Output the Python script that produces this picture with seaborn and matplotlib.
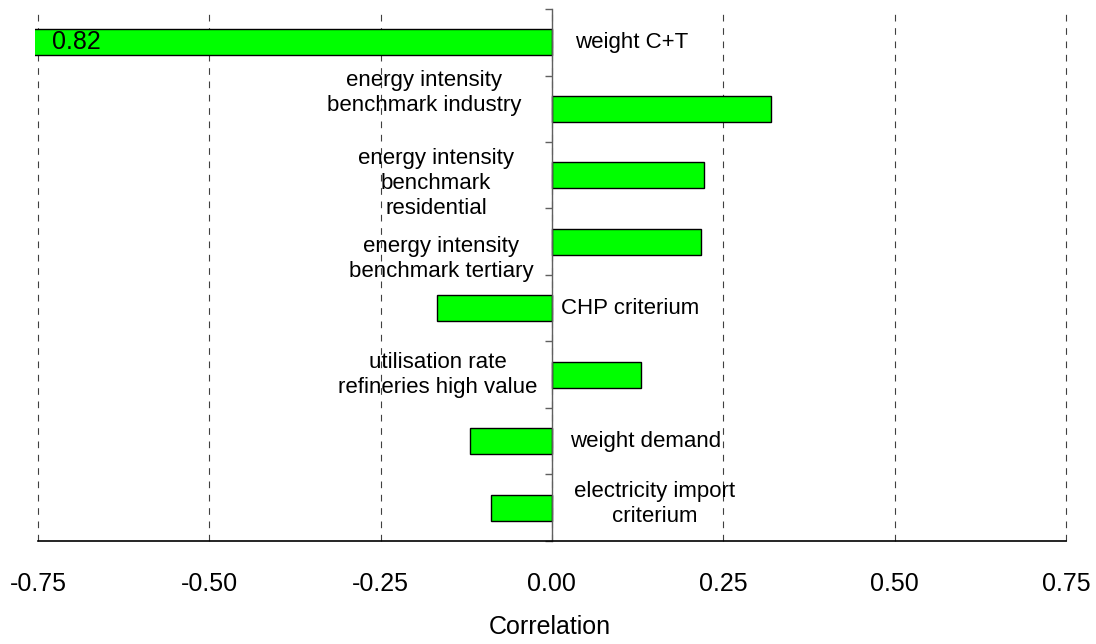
import seaborn as sns
import matplotlib.pyplot as plt
import pandas as pd

# values
categories = ["weight C+T", "ei industry", "ei residential", "ei tertiary",
              "CHP criterium", "utilisation rate", "weight demand", "electricity import"]
label_text = ["weight C+T",
              "energy intensity\nbenchmark industry",
              "energy intensity\nbenchmark\nresidential",
              "energy intensity\nbenchmark tertiary",
              "CHP criterium",
              "utilisation rate\nrefineries high value",
              "weight demand",
              "electricity import\ncriterium"]
correlation = [-0.82, 0.32, 0.222, 0.218, -0.168, 0.13, -0.119, -0.089]
ticks_x = [-0.75, -0.50, -0.25, 0.00, 0.25, 0.50, 0.75]

# where the category names sit inside the plot
label_x = [0.117, -0.186, -0.169, -0.162, 0.114, -0.166, 0.137, 0.150]
label_dy = [0.0, -0.23, 0.12, 0.26, 0.0, 0.0, 0.0, -0.05]

df = pd.DataFrame({"name": categories, "corr": correlation})

sns.set_theme(style="white")
plt.rcParams["font.family"] = ["Liberation Sans", "DejaVu Sans"]
plt.rcParams["text.color"] = "black"
plt.rcParams["axes.labelcolor"] = "black"
plt.rcParams["xtick.color"] = "black"

fig = plt.figure(figsize=(10.96, 6.44), dpi=100)
ax = fig.add_axes([0.0315, 0.16, 0.941, 0.826])

sns.barplot(data=df, x="corr", y="name", color="#00ff00", saturation=1,
            edgecolor="black", linewidth=1, width=0.39, ax=ax, zorder=3)

ax.set_xlim(-0.755, 0.75)
ax.set_ylim(len(categories) - 0.5, -0.5)

# dashed vertical grid
for t in ticks_x:
    ax.axvline(t, color="#404040", lw=0.8, ls=(0, (6, 6)), zorder=1, clip_on=False)

ax.set_xticks(ticks_x)
ax.set_xticklabels([f"{t:.2f}" for t in ticks_x], fontsize=18)
ax.tick_params(axis="x", length=0, pad=22)
ax.set_xlabel("Correlation", fontsize=18, labelpad=14)
ax.set_ylabel("")

# category axis sits at zero, ticks between categories
ax.spines["left"].set_position(("data", 0))
ax.spines["left"].set_color("#606060")
ax.spines["left"].set_linewidth(1)
ax.spines["left"].set_zorder(4)
ax.set_yticks([i - 0.5 for i in range(len(categories) + 1)])
ax.set_yticklabels([])
ax.tick_params(axis="y", length=5, width=1, color="#606060", direction="out", left=True)
ax.spines["top"].set_visible(False)
ax.spines["right"].set_visible(False)
ax.spines["bottom"].set_bounds(-0.75, 0.75)
ax.spines["bottom"].set_color("black")
ax.spines["bottom"].set_linewidth(1.2)
ax.spines["bottom"].set_zorder(4)

for i, txt in enumerate(label_text):
    ax.text(label_x[i], i + label_dy[i], txt, ha="center", va="center",
            fontsize=16, linespacing=1.25, zorder=5)

ax.text(-0.73, 0, f"{abs(correlation[0]):.2f}", ha="left", va="center",
        fontsize=18, zorder=5)

fig.savefig("out.png", dpi=100)
